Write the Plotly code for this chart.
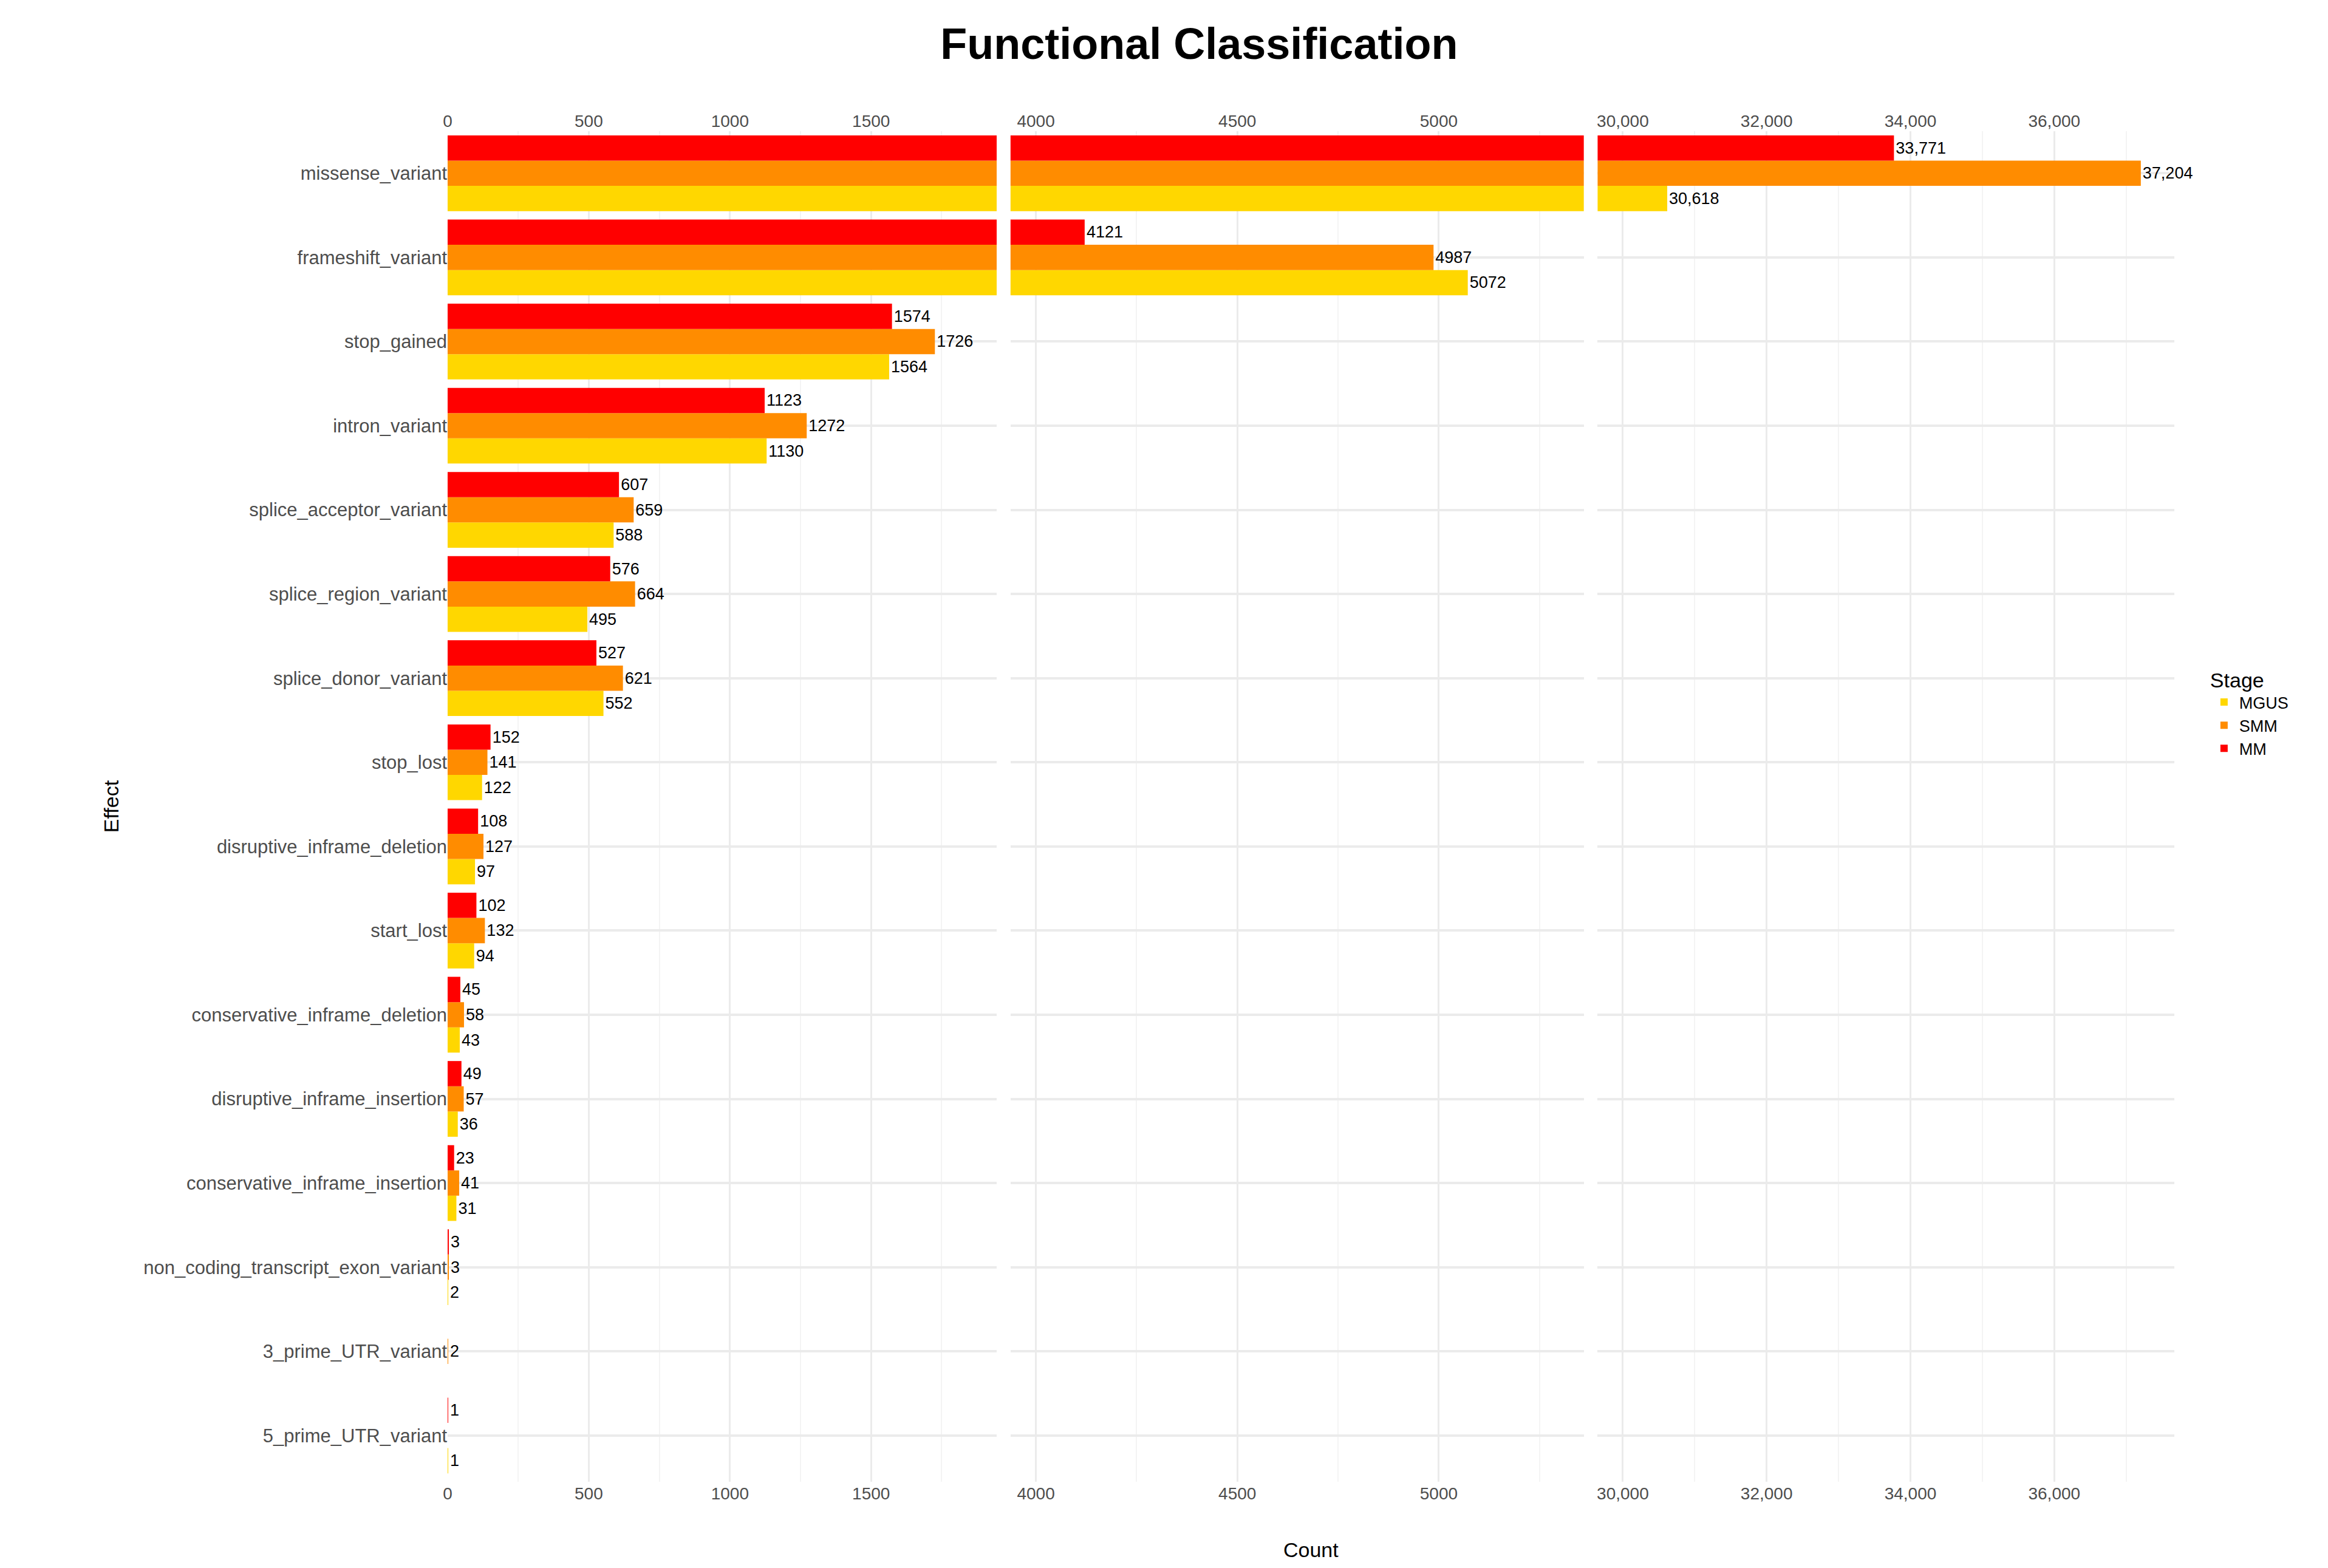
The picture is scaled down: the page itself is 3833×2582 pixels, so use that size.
import plotly.graph_objects as go

effects = ["missense_variant","frameshift_variant","stop_gained","intron_variant",
           "splice_acceptor_variant","splice_region_variant","splice_donor_variant",
           "stop_lost","disruptive_inframe_deletion","start_lost",
           "conservative_inframe_deletion","disruptive_inframe_insertion",
           "conservative_inframe_insertion","non_coding_transcript_exon_variant",
           "3_prime_UTR_variant","5_prime_UTR_variant"]
mgus = [30618,5072,1564,1130,588,495,552,122,97,94,43,36,31,2,None,1]
smm  = [37204,4987,1726,1272,659,664,621,141,127,132,58,57,41,3,2,None]
mm   = [33771,4121,1574,1123,607,576,527,152,108,102,45,49,23,3,None,1]
stages = ["MGUS","SMM","MM"]
colors = {"MGUS":"#FFD700","SMM":"#FF8C00","MM":"#FF0000"}
series = {"MGUS":mgus,"SMM":smm,"MM":mm}

panels = [
    dict(rng=[0,1945], ticks=[0,500,1000,1500], fmt=lambda v: f"{v}", dom=[0,0.318], minor=250),
    dict(rng=[3937,5360], ticks=[4000,4500,5000], fmt=lambda v: f"{v}", dom=[0.326,0.658], minor=250),
    dict(rng=[29650,37670], ticks=[30000,32000,34000,36000], fmt=lambda v: f"{v:,}", dom=[0.666,1.0], minor=1000),
]

fig = go.Figure()
for pi, p in enumerate(panels):
    ax = "x" if pi == 0 else f"x{pi+1}"
    lo, hi = p["rng"]
    for s in stages:
        vals = series[s]
        texts, pos = [], []
        for v in vals:
            if v is not None and lo <= v <= hi:
                texts.append(p["fmt"](v))
                pos.append("inside" if hi - v < (hi - lo) * 0.04 else "outside")
            else:
                texts.append("")
                pos.append("none")
        fig.add_trace(go.Bar(
            y=effects, x=vals, orientation="h", name=s, marker_color=colors[s],
            marker_line_width=0, xaxis=ax, yaxis="y", showlegend=(pi == 0),
            text=texts, textposition=pos, insidetextanchor="end",
            textfont=dict(size=27, color="black"), cliponaxis=False,
            legendgroup=s, hoverinfo="x+name"))

layout = dict(
    barmode="group", bargap=0.1, bargroupgap=0,
    plot_bgcolor="white", paper_bgcolor="white",
    font=dict(family="Liberation Sans, Arial", size=28, color="#4d4d4d"),
    title=dict(text="<b>Functional Classification</b>", x=0.513, xanchor="center", y=0.985,
               font=dict(size=72, color="black")),
    margin=dict(l=729, r=261, t=208, b=150),
    height=2582, width=3833,
    yaxis=dict(categoryorder="array", categoryarray=effects[::-1], showgrid=True,
               gridcolor="#ebebeb", gridwidth=4, ticks="", zeroline=False,
               title=dict(text="Effect", font=dict(size=34, color="black"), standoff=30),
               tickfont=dict(size=31, color="#4d4d4d"), range=[-0.55, 15.5]),
    legend=dict(title=dict(text="Stage", font=dict(size=34, color="black")),
                x=1.02, y=0.57, xanchor="left", yanchor="middle",
                font=dict(size=27, color="black"), traceorder="normal",
                itemwidth=40),
)
for pi, p in enumerate(panels):
    key = "xaxis" if pi == 0 else f"xaxis{pi+1}"
    layout[key] = dict(domain=p["dom"], range=p["rng"], tickvals=p["ticks"],
                       ticktext=[p["fmt"](t) for t in p["ticks"]],
                       showgrid=True, gridcolor="#ebebeb", gridwidth=3, zeroline=False,
                       minor=dict(dtick=p["minor"], showgrid=True, gridcolor="#f4f4f4", gridwidth=2),
                       tick0=0, anchor="y", side="bottom", ticks="",
                       tickfont=dict(size=28, color="#4d4d4d"))
    tkey = f"xaxis{pi+4}"
    base = "x" if pi == 0 else f"x{pi+1}"
    layout[tkey] = dict(overlaying=base, matches=base, side="top", anchor="y",
                        tickvals=p["ticks"], ticktext=[p["fmt"](t) for t in p["ticks"]],
                        showgrid=False, zeroline=False, ticks="",
                        tickfont=dict(size=28, color="#4d4d4d"))
layout["xaxis"]["minor"]["tick0"] = 0
layout["xaxis2"]["minor"]["tick0"] = 0
layout["xaxis3"]["minor"]["tick0"] = 0
fig.update_layout(**layout)
fig.add_annotation(text="Count", x=0.5, xref="paper", y=-0.06, yref="paper",
                   showarrow=False, font=dict(size=34, color="black"))
fig.add_trace(go.Scatter(x=[None], y=[None], xaxis="x4", yaxis="y", showlegend=False))
fig.add_trace(go.Scatter(x=[None], y=[None], xaxis="x5", yaxis="y", showlegend=False))
fig.add_trace(go.Scatter(x=[None], y=[None], xaxis="x6", yaxis="y", showlegend=False))
fig.write_html("out.html")
